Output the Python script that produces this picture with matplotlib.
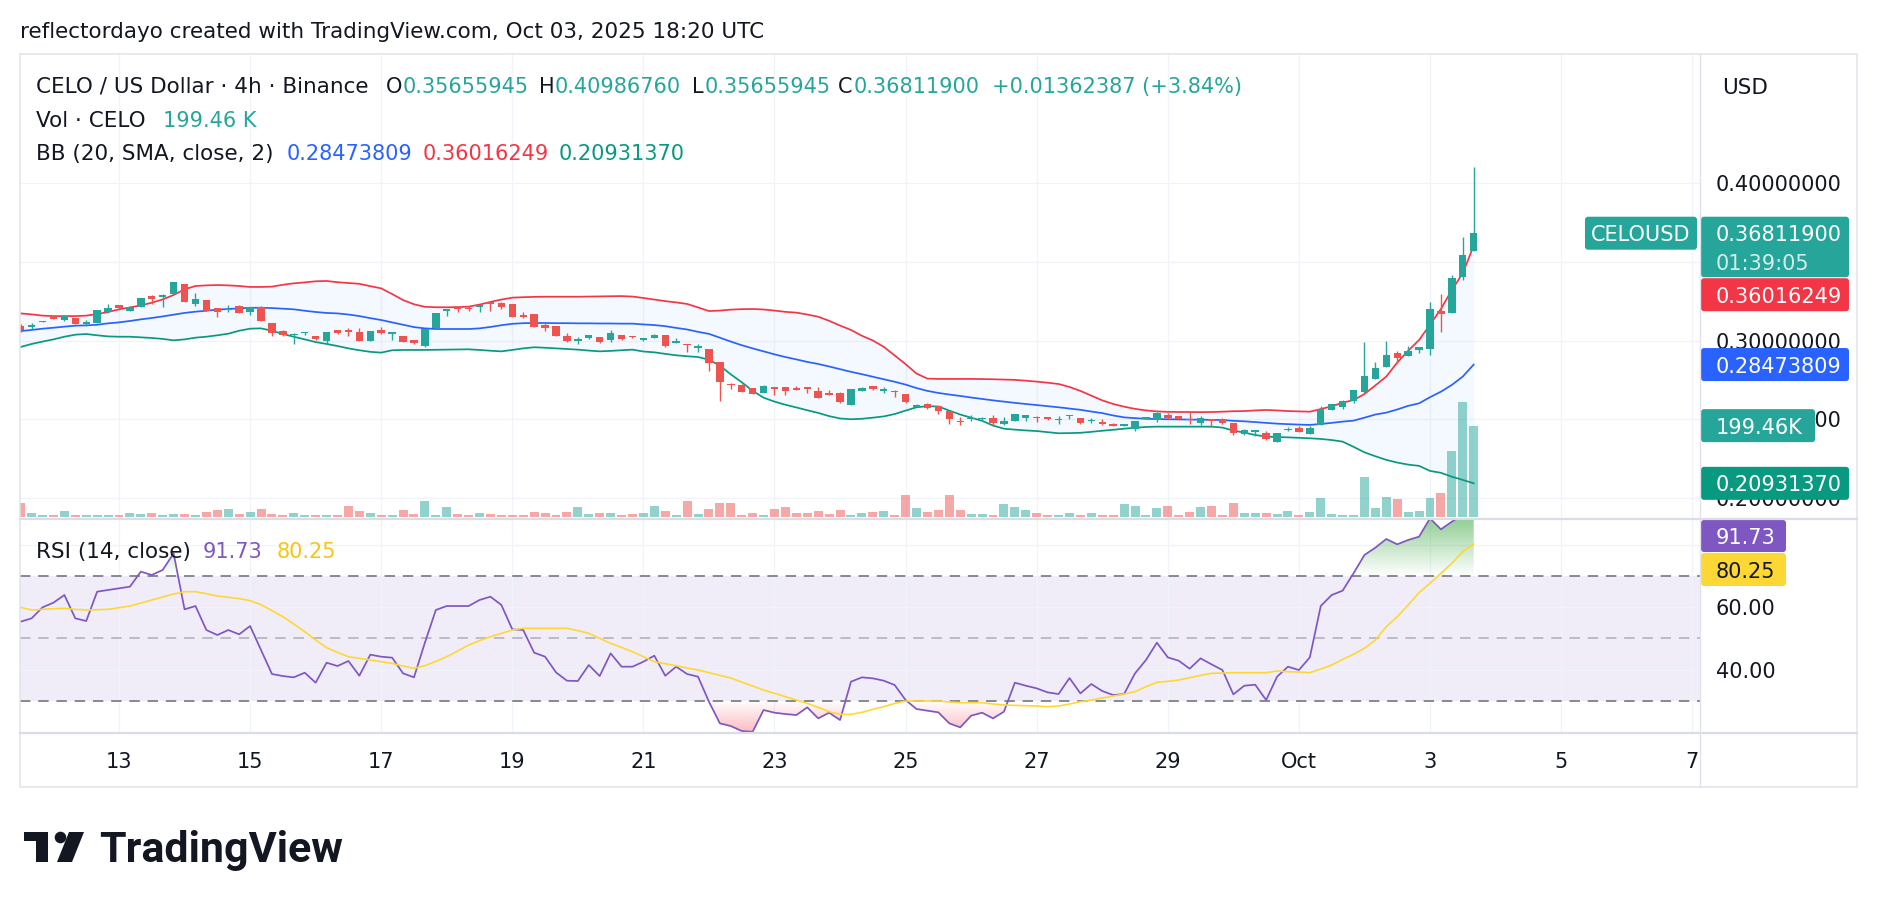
import numpy as np
import pandas as pd
import matplotlib
matplotlib.use("Agg")
import matplotlib.pyplot as plt
import matplotlib.dates as mdates
from matplotlib.colors import to_rgb
from matplotlib.path import Path
from matplotlib.patches import FancyBboxPatch, Rectangle, Polygon, Circle
from matplotlib.transforms import Affine2D, blended_transform_factory

plt.rcParams['font.family'] = ['DejaVu Sans']

# ---------------- data ----------------
dates = pd.date_range("2025-09-11 12:00", periods=134, freq="4h")

open_ = [
0.3092, 0.3088, 0.3117, 0.3155, 0.3130, 0.3143, 0.3105, 0.3113, 0.3179, 0.3223,
0.3189, 0.3215, 0.3282, 0.3276, 0.3297, 0.3359, 0.3232, 0.3257, 0.3204, 0.3194,
0.3221, 0.3183, 0.3215, 0.3111, 0.3058, 0.3035, 0.3045, 0.3029, 0.2995, 0.3065,
0.3065, 0.3052, 0.2999, 0.3067, 0.3041, 0.3029, 0.3003, 0.2967, 0.3082, 0.3187,
0.3204, 0.3204, 0.3215, 0.3242, 0.3240, 0.3232, 0.3164, 0.3168, 0.3099, 0.3092,
0.3029, 0.2999, 0.3014, 0.3020, 0.3003, 0.3035, 0.3026, 0.3001, 0.3016, 0.3035,
0.2986, 0.2978, 0.2955, 0.2944, 0.2864, 0.2724, 0.2717, 0.2696, 0.2669, 0.2702,
0.2702, 0.2696, 0.2702, 0.2679, 0.2664, 0.2667, 0.2593, 0.2679, 0.2709, 0.2682,
0.2682, 0.2658, 0.2580, 0.2595, 0.2584, 0.2552, 0.2491, 0.2499, 0.2499, 0.2510,
0.2468, 0.2491, 0.2510, 0.2516, 0.2512, 0.2493, 0.2520, 0.2506, 0.2489, 0.2485,
0.2468, 0.2459, 0.2436, 0.2504, 0.2495, 0.2529, 0.2520, 0.2504, 0.2474, 0.2499,
0.2502, 0.2474, 0.2405, 0.2417, 0.2411, 0.2358, 0.2430, 0.2443, 0.2409, 0.2464,
0.2559, 0.2580, 0.2618, 0.2676, 0.2756, 0.2834, 0.2919, 0.2904, 0.2942, 0.2946,
0.3185, 0.3175, 0.3403, 0.35655945]

high = [
0.3103, 0.3109, 0.3124, 0.3158, 0.3162, 0.3145, 0.3128, 0.3196, 0.3232, 0.3225,
0.3217, 0.3270, 0.3287, 0.3297, 0.3371, 0.3361, 0.3302, 0.3259, 0.3206, 0.3223,
0.3227, 0.3213, 0.3219, 0.3113, 0.3065, 0.3045, 0.3056, 0.3031, 0.3056, 0.3069,
0.3077, 0.3077, 0.3062, 0.3084, 0.3054, 0.3031, 0.3005, 0.3075, 0.3174, 0.3200,
0.3215, 0.3219, 0.3227, 0.3244, 0.3244, 0.3234, 0.3179, 0.3170, 0.3113, 0.3094,
0.3046, 0.3024, 0.3037, 0.3022, 0.3067, 0.3037, 0.3029, 0.3018, 0.3043, 0.3037,
0.3016, 0.2980, 0.2978, 0.2946, 0.2866, 0.2732, 0.2724, 0.2698, 0.2717, 0.2704,
0.2704, 0.2711, 0.2704, 0.2702, 0.2686, 0.2673, 0.2694, 0.2702, 0.2711, 0.2707,
0.2684, 0.2660, 0.2595, 0.2603, 0.2586, 0.2555, 0.2512, 0.2525, 0.2516, 0.2527,
0.2512, 0.2533, 0.2529, 0.2518, 0.2514, 0.2520, 0.2529, 0.2508, 0.2510, 0.2499,
0.2478, 0.2468, 0.2491, 0.2516, 0.2548, 0.2538, 0.2523, 0.2546, 0.2520, 0.2502,
0.2508, 0.2476, 0.2440, 0.2432, 0.2426, 0.2413, 0.2449, 0.2457, 0.2460, 0.2584,
0.2599, 0.2620, 0.2688, 0.2993, 0.2866, 0.2999, 0.2934, 0.2965, 0.2961, 0.3245,
0.3295, 0.3416, 0.3657, 0.40986760]

low = [
0.3052, 0.3073, 0.3115, 0.3136, 0.3124, 0.3105, 0.3090, 0.3111, 0.3177, 0.3196,
0.3187, 0.3213, 0.3230, 0.3215, 0.3295, 0.3244, 0.3221, 0.3185, 0.3147, 0.3181,
0.3175, 0.3160, 0.3124, 0.3031, 0.3026, 0.2980, 0.3033, 0.3005, 0.2978, 0.3044,
0.3029, 0.2997, 0.2997, 0.3044, 0.3003, 0.2991, 0.2980, 0.2961, 0.3080, 0.3158,
0.3183, 0.3189, 0.3183, 0.3189, 0.3202, 0.3149, 0.3141, 0.3086, 0.3062, 0.3029,
0.2993, 0.2978, 0.3012, 0.2986, 0.2993, 0.3006, 0.3018, 0.2999, 0.3014, 0.2961,
0.2984, 0.2930, 0.2930, 0.2809, 0.2618, 0.2694, 0.2673, 0.2660, 0.2667, 0.2654,
0.2656, 0.2684, 0.2669, 0.2635, 0.2654, 0.2605, 0.2588, 0.2677, 0.2688, 0.2669,
0.2643, 0.2605, 0.2578, 0.2567, 0.2531, 0.2468, 0.2461, 0.2489, 0.2487, 0.2459,
0.2466, 0.2489, 0.2491, 0.2483, 0.2497, 0.2468, 0.2499, 0.2472, 0.2478, 0.2466,
0.2457, 0.2457, 0.2427, 0.2502, 0.2485, 0.2504, 0.2497, 0.2472, 0.2461, 0.2453,
0.2472, 0.2398, 0.2403, 0.2396, 0.2369, 0.2356, 0.2428, 0.2419, 0.2407, 0.2462,
0.2557, 0.2565, 0.2606, 0.2669, 0.2754, 0.2832, 0.2860, 0.2902, 0.2923, 0.2910,
0.3056, 0.3173, 0.3386, 0.35655945]

close = [
0.3067, 0.3096, 0.3122, 0.3139, 0.3155, 0.3107, 0.3117, 0.3194, 0.3204, 0.3206,
0.3215, 0.3268, 0.3261, 0.3289, 0.3369, 0.3247, 0.3263, 0.3187, 0.3179, 0.3202,
0.3177, 0.3210, 0.3126, 0.3045, 0.3035, 0.3041, 0.3054, 0.3007, 0.3054, 0.3046,
0.3054, 0.2999, 0.3060, 0.3046, 0.3052, 0.2993, 0.2982, 0.3073, 0.3172, 0.3198,
0.3198, 0.3198, 0.3225, 0.3234, 0.3211, 0.3151, 0.3151, 0.3088, 0.3077, 0.3031,
0.2999, 0.3008, 0.3035, 0.2993, 0.3050, 0.3008, 0.3020, 0.3016, 0.3037, 0.2967,
0.2995, 0.2969, 0.2961, 0.2855, 0.2734, 0.2715, 0.2675, 0.2662, 0.2711, 0.2694,
0.2682, 0.2686, 0.2694, 0.2637, 0.2656, 0.2607, 0.2690, 0.2700, 0.2690, 0.2690,
0.2673, 0.2612, 0.2588, 0.2570, 0.2555, 0.2499, 0.2483, 0.2506, 0.2508, 0.2474,
0.2491, 0.2531, 0.2527, 0.2508, 0.2499, 0.2499, 0.2527, 0.2474, 0.2497, 0.2468,
0.2459, 0.2466, 0.2489, 0.2514, 0.2540, 0.2506, 0.2499, 0.2495, 0.2506, 0.2487,
0.2474, 0.2410, 0.2432, 0.2430, 0.2377, 0.2411, 0.2438, 0.2421, 0.2447, 0.2567,
0.2597, 0.2618, 0.2686, 0.2775, 0.2826, 0.2908, 0.2887, 0.2934, 0.2957, 0.3200,
0.3166, 0.3399, 0.35449513, 0.36811900]

volume_k = [
30.7, 8.0, 3.6, 3.6, 12.4, 3.6, 3.6, 3.6, 3.6, 3.6,
8.0, 6.6, 8.0, 4.4, 5.8, 5.8, 3.6, 10.2, 14.6, 16.8,
5.8, 10.2, 16.8, 5.8, 3.6, 8.0, 3.6, 3.6, 3.6, 3.6,
23.4, 12.4, 8.0, 3.6, 3.6, 14.6, 5.8, 34.3, 3.6, 21.2,
5.8, 3.6, 8.0, 5.8, 3.6, 3.6, 3.6, 10.2, 8.0, 3.6,
10.2, 21.2, 5.8, 8.0, 8.0, 3.6, 5.8, 8.0, 23.4, 12.4,
3.6, 34.3, 5.8, 16.8, 29.9, 29.9, 3.6, 8.0, 3.6, 16.8,
21.2, 8.0, 8.0, 12.4, 5.8, 14.6, 3.6, 8.0, 10.2, 12.4,
3.6, 47.4, 19.0, 10.2, 14.6, 47.4, 14.6, 5.8, 5.8, 3.6,
27.7, 21.2, 14.6, 8.0, 3.6, 3.6, 8.0, 3.6, 8.0, 3.6,
3.6, 27.7, 23.4, 3.6, 19.0, 23.4, 3.6, 10.2, 21.2, 23.4,
3.6, 29.9, 8.0, 8.0, 8.0, 5.8, 12.4, 3.6, 10.2, 40.9,
5.8, 3.6, 3.6, 87.3, 19.0, 43.1, 38.7, 10.2, 12.4, 40.9,
51.8, 144.5, 251.6, 199.46]

bb_upper = [
.3172, .3166, .3158, .3155, .3155, .3155, .3158, .3168, .3181, .3198,
.3210, .3223, .3240, .3261, .3289, .3325, .3346, .3350, .3352, .3350,
.3346, .3340, .3340, .3342, .3354, .3363, .3369, .3376, .3378, .3370,
.3365, .3360, .3345, .3331, .3295, .3257, .3230, .3214, .3211, .3211,
.3212, .3215, .3228, .3245, .3260, .3272, .3275, .3277, .3278, .3278,
.3278, .3278, .3279, .3280, .3281, .3282, .3279, .3270, .3260, .3250,
.3242, .3232, .3210, .3187, .3190, .3196, .3199, .3200, .3197, .3190,
.3182, .3177, .3165, .3151, .3125, .3095, .3067, .3030, .3000, .2960,
.2905, .2850, .2790, .2758, .2756, .2756, .2756, .2756, .2755, .2754,
.2752, .2750, .2745, .2739, .2732, .2724, .2705, .2680, .2650, .2620,
.2597, .2580, .2566, .2556, .2550, .2547, .2546, .2546, .2545, .2546,
.2548, .2551, .2552, .2556, .2559, .2556, .2552, .2550, .2548, .2565,
.2582, .2605, .2622, .2660, .2715, .2771, .2860, .2935, .3003, .3100,
.3200, .3321, .3427, .36016249]

bb_basis = [
.3060, .3067, .3075, .3081, .3088, .3094, .3096, .3100, .3109, .3115,
.3124, .3134, .3143, .3153, .3164, .3175, .3183, .3189, .3196, .3200,
.3204, .3208, .3208, .3206, .3202, .3198, .3189, .3181, .3175, .3172,
.3165, .3155, .3142, .3130, .3115, .3100, .3085, .3077, .3073, .3073,
.3073, .3073, .3077, .3086, .3097, .3106, .3110, .3111, .3111, .3110,
.3110, .3109, .3109, .3108, .3108, .3107, .3107, .3102, .3098, .3091,
.3080, .3070, .3055, .3042, .3018, .2993, .2970, .2950, .2931, .2912,
.2895, .2880, .2864, .2851, .2835, .2818, .2801, .2786, .2770, .2754,
.2738, .2720, .2698, .2680, .2667, .2657, .2648, .2638, .2629, .2620,
.2612, .2604, .2597, .2590, .2583, .2576, .2568, .2560, .2549, .2539,
.2524, .2512, .2507, .2503, .2501, .2500, .2499, .2498, .2497, .2496,
.2495, .2490, .2487, .2482, .2477, .2472, .2469, .2466, .2464, .2470,
.2477, .2485, .2491, .2510, .2530, .2542, .2562, .2585, .2601, .2640,
.2675, .2718, .2771, .28473809]

bb_lower = [
.2959, .2978, .2993, .3007, .3024, .3037, .3041, .3033, .3026, .3024,
.3024, .3020, .3016, .3010, .3001, .3007, .3018, .3024, .3033, .3043,
.3062, .3075, .3077, .3062, .3041, .3024, .3007, .2990, .2978, .2965,
.2950, .2938, .2928, .2923, .2938, .2940, .2940, .2940, .2941, .2942,
.2943, .2944, .2940, .2935, .2931, .2940, .2950, .2957, .2954, .2950,
.2946, .2942, .2936, .2931, .2934, .2938, .2942, .2930, .2925, .2915,
.2906, .2900, .2895, .2878, .2840, .2785, .2735, .2680, .2637, .2612,
.2592, .2575, .2557, .2540, .2520, .2505, .2500, .2503, .2510, .2518,
.2533, .2555, .2576, .2583, .2581, .2555, .2530, .2510, .2490, .2460,
.2440, .2434, .2429, .2425, .2418, .2411, .2412, .2414, .2420, .2427,
.2433, .2440, .2446, .2451, .2453, .2453, .2453, .2453, .2453, .2453,
.2447, .2428, .2415, .2400, .2390, .2387, .2385, .2382, .2379, .2375,
.2368, .2358, .2325, .2290, .2265, .2242, .2225, .2212, .2204, .2172,
.2160, .2135, .2115, .20931370]

rsi = [
55.35, 56.42, 59.95, 61.44, 63.90, 56.42, 55.56, 64.97, 65.51, 66.04,
66.58, 71.39, 70.32, 71.93, 77.27, 59.30, 60.37, 52.67, 51.07, 52.67,
51.28, 53.96, 46.26, 38.56, 37.91, 37.49, 38.98, 35.78, 42.19, 41.12,
42.73, 38.02, 44.76, 44.12, 43.80, 38.77, 37.49, 48.61, 59.09, 60.37,
60.37, 60.37, 62.30, 63.37, 60.70, 52.89, 52.67, 45.40, 44.12, 39.09,
36.42, 36.31, 41.44, 37.91, 45.19, 40.91, 40.91, 42.51, 44.44, 38.02,
40.91, 38.56, 37.70, 29.68, 22.73, 21.87, 20.27, 20.05, 27.01, 26.15,
25.72, 25.40, 27.86, 24.33, 26.15, 23.80, 36.10, 37.49, 37.17, 36.42,
35.03, 30.21, 27.33, 26.79, 26.26, 22.73, 21.44, 25.19, 26.15, 24.33,
26.47, 35.78, 34.81, 33.96, 32.67, 32.14, 37.27, 32.35, 35.35, 33.10,
31.82, 32.14, 38.77, 43.05, 48.61, 43.90, 42.83, 40.27, 43.58, 41.66,
39.84, 32.03, 34.81, 35.13, 30.21, 37.70, 40.91, 39.84, 43.90, 60.37,
63.90, 65.29, 70.86, 76.74, 79.09, 81.87, 80.16, 81.55, 82.62, 88.50,
84.97, 87.43, 89.57, 91.73]

rsi_ma = [
59.95, 59.09, 59.30, 59.52, 59.63, 59.30, 59.09, 59.20, 59.30, 59.84,
60.37, 61.34, 62.30, 63.26, 64.22, 64.97, 64.97, 64.33, 63.58, 63.16,
62.73, 62.09, 60.80, 58.88, 56.95, 54.60, 52.14, 49.47, 47.01, 45.51,
44.12, 43.58, 43.05, 42.51, 41.98, 41.12, 40.37, 41.23, 42.62, 44.12,
45.94, 47.86, 49.25, 50.53, 51.60, 52.67, 53.21, 53.21, 53.21, 53.21,
53.21, 52.46, 51.60, 50.00, 48.40, 47.11, 45.72, 44.12, 42.51, 41.87,
41.23, 40.48, 39.84, 38.98, 38.13, 37.27, 35.99, 34.71, 33.42, 32.35,
31.28, 30.21, 29.14, 27.86, 26.47, 25.61, 25.61, 26.26, 27.22, 28.07,
29.14, 29.89, 29.89, 29.89, 29.89, 29.57, 29.36, 29.36, 29.36, 28.93,
28.61, 28.50, 28.40, 28.29, 28.07, 28.29, 28.93, 29.68, 30.21, 30.86,
31.50, 32.14, 32.89, 34.49, 35.88, 36.20, 36.63, 37.38, 38.13, 38.77,
38.88, 38.98, 38.98, 38.98, 38.98, 39.52, 39.30, 39.20, 38.98, 40.16,
41.44, 43.26, 44.87, 46.79, 49.47, 53.74, 56.95, 60.70, 64.65, 67.65,
70.86, 74.06, 77.81, 80.25]

day_ticks = pd.to_datetime(["2025-09-13", "2025-09-15", "2025-09-17", "2025-09-19",
                            "2025-09-21", "2025-09-23", "2025-09-25", "2025-09-27",
                            "2025-09-29", "2025-10-01", "2025-10-03", "2025-10-05",
                            "2025-10-07"])
day_labels = ["13", "15", "17", "19", "21", "23", "25", "27", "29", "Oct", "3", "5", "7"]
price_ticks = [0.20, 0.25, 0.30, 0.35, 0.40]
rsi_ticks = [40, 60, 80]
rsi_tick_labels = ["40.00", "60.00", ""]

# ---------------- style ----------------
W, H, DPI = 1878, 908, 100
UP, DOWN = "#26A69A", "#EF5350"
TXT = "#131722"
GRID = "#F0F3FA"
C_UPPER, C_BASIS, C_LOWER = "#F23645", "#2962FF", "#089981"
C_RSI, C_MA = "#7E57C2", "#FDD835"
FS = 15      # numbers
FSL = 15.5   # words

fig = plt.figure(figsize=(W / DPI, H / DPI), dpi=DPI, facecolor="white")


def rect(l, t, r, b):
    return [l / W, 1 - b / H, (r - l) / W, (b - t) / H]


ax = fig.add_axes(rect(20, 54, 1700, 519))
axr = fig.add_axes(rect(20, 519, 1700, 733))

x = mdates.date2num(dates.to_pydatetime())
xbase = mdates.date2num(pd.Timestamp("2025-09-13").to_pydatetime())
XL = (xbase - 1.5103, xbase + 24.119)
tick_x = mdates.date2num(day_ticks.to_pydatetime())
step = 1.0 / 6.0

for a in (ax, axr):
    a.set_xlim(*XL)
    for s in a.spines.values():
        s.set_visible(False)
    a.set_xticks(tick_x)
    a.yaxis.tick_right()
    a.grid(True, color=GRID, lw=0.9)
    a.set_axisbelow(True)
    a.tick_params(axis="both", length=0, labelsize=FS, labelcolor=TXT)
    a.set_facecolor("white")

ax.set_ylim(0.18667, 0.4819)
axr.set_ylim(19.64, 88.28)
ax.tick_params(axis="x", labelbottom=False)
ax.set_yticks(price_ticks)
ax.set_yticklabels([f"{v:.8f}" for v in price_ticks])
ax.tick_params(axis="y", pad=11.5)
axr.set_yticks(rsi_ticks)
axr.set_yticklabels(rsi_tick_labels)
axr.tick_params(axis="y", pad=11.5)
axr.set_xticklabels(day_labels)
axr.tick_params(axis="x", pad=14)

o = np.array(open_); h = np.array(high); l = np.array(low); c = np.array(close)
vol = np.array(volume_k)
up = c >= o
cols = np.where(up, UP, DOWN)

# volume overlay (bottom of price pane)
VOL_LO, VOL_HI = -5.0, 1013.4
vol_tr = blended_transform_factory(
    ax.transData,
    Affine2D().translate(0, -VOL_LO).scale(1, 1.0 / (VOL_HI - VOL_LO)) + ax.transAxes)
for xi, vi, ci in zip(x, vol, cols):
    ax.add_patch(Rectangle((xi - 0.41 * step, 0), 0.82 * step, vi, transform=vol_tr,
                           facecolor=ci, alpha=0.5, lw=0, zorder=1.2))

# Bollinger bands
ax.fill_between(x, bb_upper, bb_lower, color="#2196F3", alpha=0.05, lw=0, zorder=1.1)
ax.plot(x, bb_upper, color=C_UPPER, lw=1.25, zorder=2)
ax.plot(x, bb_basis, color=C_BASIS, lw=1.25, zorder=2)
ax.plot(x, bb_lower, color=C_LOWER, lw=1.25, zorder=2)

# candles
ax.vlines(x, l, h, colors=cols, lw=1.0, zorder=3)
body_lo = np.minimum(o, c)
body_h = np.maximum(np.abs(c - o), 0.0009)
ax.bar(x, body_h, width=0.68 * step, bottom=body_lo, color=cols, lw=0, zorder=4)

# RSI pane
axr.axhspan(30, 70, color=C_RSI, alpha=0.1, lw=0, zorder=0.3)
axr.axhline(70, color="#787B86", lw=1.25, ls=(0, (6, 4.5)), zorder=1)
axr.axhline(30, color="#787B86", lw=1.25, ls=(0, (6, 4.5)), zorder=1)
axr.axhline(50, color="#787B86", lw=1.25, ls=(0, (6, 4.5)), alpha=0.5, zorder=1)

rsi_a = np.array(rsi)


def gradient_fill(level, mask, color, y0, y1, a0, a1):
    coll = axr.fill_between(x, rsi_a, level, where=mask, interpolate=True,
                            facecolor="none", edgecolor="none")
    paths = coll.get_paths()
    if not paths:
        return
    path = Path.make_compound_path(*paths)
    n = 256
    img = np.zeros((n, 2, 4))
    img[..., :3] = to_rgb(color)
    img[..., 3] = np.linspace(a0, a1, n)[:, None]
    im = axr.imshow(img, extent=[x[0], x[-1], y0, y1], origin="lower",
                    aspect="auto", interpolation="bilinear", zorder=1.5)
    im.set_clip_path(path, transform=axr.transData)


gradient_fill(70, rsi_a >= 70, "#4CAF50", 70, 100, 0.0, 1.0)
gradient_fill(30, rsi_a <= 30, "#F23645", 0, 30, 1.0, 0.0)
axr.set_xlim(*XL)
axr.set_ylim(19.64, 88.28)

axr.plot(x, rsi, color=C_RSI, lw=1.25, zorder=3)
axr.plot(x, rsi_ma, color=C_MA, lw=1.2, zorder=3)

# ---------------- overlay (labels, frame, legend) ----------------
ov = fig.add_axes([0, 0, 1, 1], zorder=10)
ov.set_xlim(0, W)
ov.set_ylim(H, 0)
ov.axis("off")


def T(xp, yp, s, color=TXT, size=FS, ha="left", va="center_baseline", **kw):
    ov.text(xp, yp, s, color=color, fontsize=size, ha=ha, va=va, **kw)


def box(x0, y0, x1, y1, color):
    ov.add_patch(FancyBboxPatch((x0, y0), x1 - x0, y1 - y0,
                                boxstyle="round,pad=0,rounding_size=3",
                                fc=color, ec="none"))


def ypix(axis_tr, val):
    return H - axis_tr.transform((XL[0], val))[1]


# frame and separators
ov.add_patch(Rectangle((20, 54), 1837, 733, fill=False, ec="#E0E3EB", lw=1.1))
ov.plot([20, 1857], [519, 519], color="#DADDE4", lw=1.6)
ov.plot([20, 1857], [733, 733], color="#DADDE4", lw=1.6)
ov.plot([1700, 1700], [54, 787], color="#E0E3EB", lw=1.0)

# header
T(20, 30, "reflectordayo created with TradingView.com, Oct 03, 2025 18:20 UTC", size=FSL)

# legend
chg = close[-1] - close[-2]
pct = chg / close[-2] * 100
T(36, 85, "CELO / US Dollar · 4h · Binance", size=FSL)
T(386, 85, "O"); T(403, 85, f"{open_[-1]:.8f}", color=UP)
T(539, 85, "H"); T(555, 85, f"{high[-1]:.8f}", color=UP)
T(692, 85, "L"); T(705, 85, f"{low[-1]:.8f}", color=UP)
T(838, 85, "C"); T(854, 85, f"{close[-1]:.8f}", color=UP)
T(992, 85, f"{chg:+.8f} ({pct:+.2f}%)", color=UP)
T(36, 118.6, "Vol · CELO", size=FSL)
T(163, 118.6, f"{volume_k[-1]:.2f} K", color=UP)
T(36, 152, "BB (20, SMA, close, 2)", size=FSL)
T(287, 152, f"{bb_basis[-1]:.8f}", color=C_BASIS)
T(423, 152, f"{bb_upper[-1]:.8f}", color=C_UPPER)
T(559, 152, f"{bb_lower[-1]:.8f}", color=C_LOWER)
T(36, 550, "RSI (14, close)", size=FSL)
T(203, 550, f"{rsi[-1]:.2f}", color=C_RSI)
T(277, 550, f"{rsi_ma[-1]:.2f}", color="#F5C518")

T(1722, 86, "USD", size=FSL)

# price scale labels
yc = ypix(ax.transData, close[-1])
box(1701, yc - 16.5, 1849, yc + 44, UP)
T(1716, yc, f"{close[-1]:.8f}", color="white")
T(1716, yc + 29, "01:39:05", color="white", alpha=0.8)
box(1585, yc - 16.5, 1697, yc + 16.5, UP)
T(1641, yc, "CELOUSD", color="white", ha="center")

yu = yc + 45 + 16.5
box(1701, yu - 16.5, 1849, yu + 16.5, C_UPPER)
T(1716, yu, f"{bb_upper[-1]:.8f}", color="white")

yb = ypix(ax.transData, bb_basis[-1])
box(1701, yb - 16.5, 1849, yb + 16.5, C_BASIS)
T(1716, yb, f"{bb_basis[-1]:.8f}", color="white")

yv = ypix(vol_tr, volume_k[-1])
box(1701, yv - 16.5, 1815, yv + 16.5, UP)
T(1716, yv, f"{volume_k[-1]:.2f}K", color="white")

yl = ypix(ax.transData, bb_lower[-1])
box(1701, yl - 16.5, 1849, yl + 16.5, C_LOWER)
T(1716, yl, f"{bb_lower[-1]:.8f}", color="white")

yr = max(ypix(axr.transData, rsi[-1]), 520 + 16)
box(1701, yr - 16, 1786, yr + 16, C_RSI)
T(1716, yr, f"{rsi[-1]:.2f}", color="white")
ym = yr + 33.5
box(1701, ym - 16.5, 1786, ym + 16.5, C_MA)
T(1716, ym, f"{rsi_ma[-1]:.2f}", color=TXT)

# TradingView logo
LOGO = "#131722"
ov.add_patch(Polygon([[24, 832], [48, 832], [48, 862], [36, 862], [36, 841], [24, 841]],
                     closed=True, fc=LOGO, ec="none"))
ov.add_patch(Circle((60.5, 837.5), 5.8, fc=LOGO, ec="none"))
ov.add_patch(Polygon([[69, 832], [84, 832], [72, 862], [57, 862]], closed=True,
                     fc=LOGO, ec="none"))
ov.text(99, 862, "TradingView", fontsize=31, fontweight="bold", color=LOGO,
        family=["Roboto", "DejaVu Sans"], ha="left", va="baseline")

fig.savefig("out.png", dpi=DPI, facecolor="white")
